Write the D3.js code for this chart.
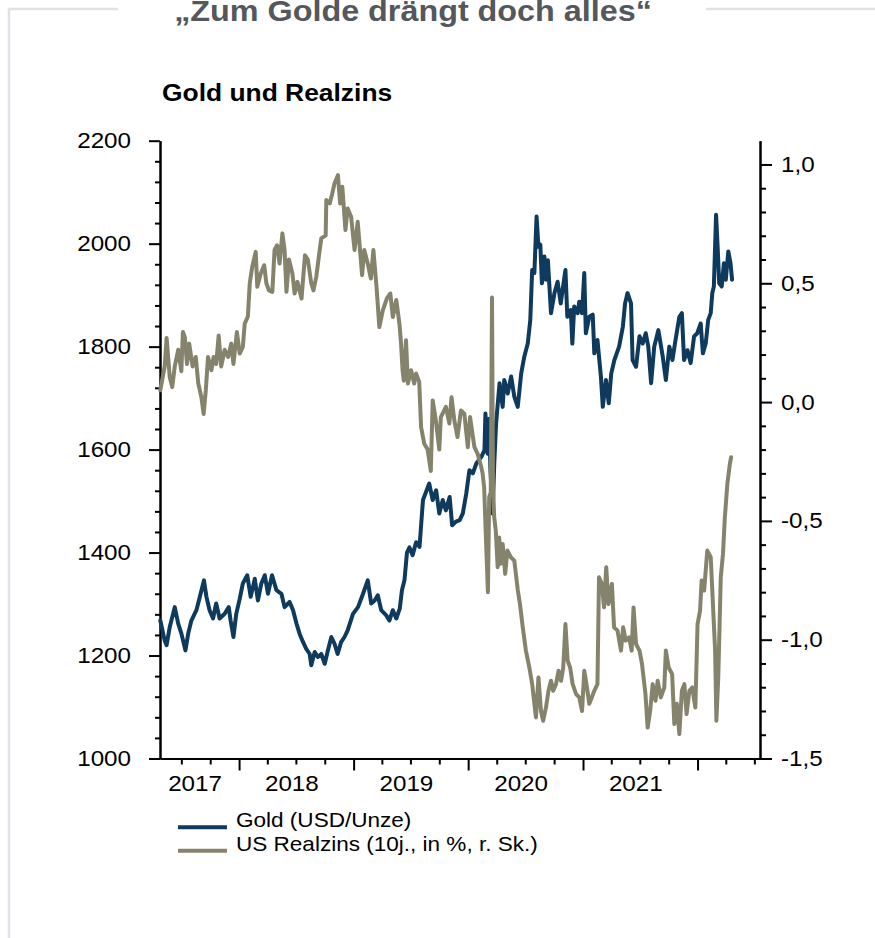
<!DOCTYPE html>
<html>
<head>
<meta charset="utf-8">
<script src="https://cdn.jsdelivr.net/npm/d3@7"></script>
<style>
  html, body { margin: 0; padding: 0; background: #fff; }
  svg { display: block; }
</style>
</head>
<body>
<svg id="chart" width="875" height="938"></svg>
<script>
// ---- texts ----
const headline = "„Zum Golde drängt doch alles“";
const chartTitle = "Gold und Realzins";
const seriesNames = ["Gold (USD/Unze)", "US Realzins (10j., in %, r. Sk.)"];
const yearLabels = [2017, 2018, 2019, 2020, 2021];

// ---- axes ----
const timeDomain = ["2017-04-24", "2022-07-19"];
const goldDomain = [1000, 2200];
const goldTicks = [1000, 1200, 1400, 1600, 1800, 2000, 2200];
const rateDomain = [-1.5, 1.1];
const rateTicks = [-1.5, -1.0, -0.5, 0.0, 0.5, 1.0];

// ---- series: gold price (USD per ounce) ----
const goldSeries = [
  ["2017-04-25",1268],["2017-05-09",1229],["2017-05-15",1220],["2017-05-25",1255],["2017-06-10",1294],
  ["2017-06-21",1262],["2017-07-01",1243],["2017-07-14",1210],["2017-07-23",1243],["2017-08-02",1268],
  ["2017-08-18",1288],["2017-08-29",1314],["2017-09-11",1346],["2017-09-19",1314],["2017-09-29",1288],
  ["2017-10-10",1272],["2017-10-20",1301],["2017-10-31",1272],["2017-11-16",1281],["2017-11-29",1294],
  ["2017-12-05",1268],["2017-12-14",1236],["2017-12-23",1281],
  ["2018-01-03",1310],["2018-01-13",1340],["2018-01-27",1356],["2018-02-07",1314],["2018-02-20",1349],
  ["2018-03-02",1307],["2018-03-13",1340],["2018-03-24",1356],["2018-04-03",1320],["2018-04-16",1356],
  ["2018-04-30",1327],["2018-05-16",1320],["2018-05-26",1294],["2018-06-11",1304],["2018-06-22",1288],
  ["2018-07-03",1262],["2018-07-13",1242],["2018-07-24",1226],["2018-08-03",1213],["2018-08-14",1203],
  ["2018-08-19",1181],["2018-08-30",1207],["2018-09-09",1197],["2018-09-20",1203],["2018-10-01",1184],
  ["2018-10-11",1210],["2018-10-22",1236],["2018-11-01",1223],["2018-11-11",1203],["2018-11-22",1226],
  ["2018-12-03",1236],["2018-12-13",1249],["2018-12-30",1281],
  ["2019-01-15",1294],["2019-01-31",1320],["2019-02-15",1346],["2019-02-26",1301],["2019-03-09",1307],
  ["2019-03-19",1317],["2019-03-30",1288],["2019-04-15",1278],["2019-04-25",1268],["2019-05-06",1288],
  ["2019-05-17",1272],["2019-05-28",1291],["2019-06-04",1327],["2019-06-12",1346],["2019-06-20",1400],
  ["2019-06-28",1410],["2019-07-08",1395],["2019-07-19",1420],["2019-07-30",1411],["2019-08-10",1502],
  ["2019-08-20",1518],["2019-08-30",1534],["2019-09-10",1502],["2019-09-21",1521],["2019-10-01",1476],
  ["2019-10-12",1502],["2019-10-22",1482],["2019-11-03",1508],["2019-11-11",1453],["2019-11-23",1460],
  ["2019-12-05",1463],["2019-12-15",1476],["2019-12-26",1515],
  ["2020-01-05",1560],["2020-01-16",1554],["2020-01-27",1573],["2020-02-12",1586],["2020-02-22",1599],
  ["2020-02-25",1670],["2020-03-03",1592],["2020-03-08",1660],["2020-03-12",1560],["2020-03-19",1476],
  ["2020-03-24",1570],["2020-03-30",1651],["2020-04-10",1729],["2020-04-20",1683],["2020-04-25",1735],
  ["2020-05-06",1709],["2020-05-17",1742],["2020-05-27",1703],["2020-06-07",1683],["2020-06-18",1748],
  ["2020-06-28",1781],["2020-07-09",1806],["2020-07-17",1852],["2020-07-23",1949],["2020-07-30",1943],
  ["2020-08-06",2053],["2020-08-12",1994],["2020-08-18",1998],["2020-08-23",1923],["2020-08-31",1975],
  ["2020-09-05",1930],["2020-09-11",1968],["2020-09-21",1865],["2020-10-02",1904],["2020-10-12",1926],
  ["2020-10-22",1884],["2020-11-06",1949],["2020-11-12",1858],["2020-11-23",1871],["2020-11-28",1806],
  ["2020-12-04",1878],["2020-12-15",1865],["2020-12-20",1887],["2020-12-29",1865],
  ["2021-01-05",1943],["2021-01-10",1826],["2021-01-21",1858],["2021-02-01",1862],["2021-02-06",1787],
  ["2021-02-16",1813],["2021-02-27",1742],["2021-03-05",1683],["2021-03-15",1735],["2021-03-24",1690],
  ["2021-04-01",1748],["2021-04-11",1774],["2021-04-26",1800],["2021-05-08",1839],["2021-05-15",1884],
  ["2021-05-23",1904],["2021-06-03",1884],["2021-06-08",1774],["2021-06-19",1761],["2021-06-30",1820],
  ["2021-07-10",1806],["2021-07-20",1826],["2021-07-28",1800],["2021-08-06",1729],["2021-08-16",1800],
  ["2021-08-29",1832],["2021-09-12",1781],["2021-09-22",1735],["2021-10-03",1800],["2021-10-13",1774],
  ["2021-10-21",1806],["2021-11-04",1858],["2021-11-12",1865],["2021-11-19",1774],["2021-11-30",1793],
  ["2021-12-10",1768],["2021-12-21",1820],["2021-12-31",1826],
  ["2022-01-11",1845],["2022-01-18",1787],["2022-01-27",1806],["2022-02-04",1852],["2022-02-12",1865],
  ["2022-02-17",1904],["2022-02-22",1917],["2022-03-01",2056],["2022-03-06",1994],["2022-03-11",1923],
  ["2022-03-19",1917],["2022-03-26",1962],["2022-04-01",1930],["2022-04-09",1985],["2022-04-16",1962],
  ["2022-04-21",1930]
];

// ---- series: US real yield, 10 years, in % (right scale) ----
const realRateSeries = [
  ["2017-04-25",0.05],["2017-05-09",0.15],["2017-05-15",0.27],["2017-05-20",0.19],["2017-05-25",0.105],
  ["2017-06-02",0.063],["2017-06-10",0.15],["2017-06-21",0.22],["2017-07-01",0.13],["2017-07-06",0.295],
  ["2017-07-12",0.274],["2017-07-19",0.16],["2017-07-26",0.246],["2017-08-06",0.15],["2017-08-16",0.19],
  ["2017-08-24",0.078],["2017-09-03",0.02],["2017-09-10",-0.05],["2017-09-17",0.05],["2017-09-24",0.19],
  ["2017-10-05",0.134],["2017-10-12",0.19],["2017-10-20",0.16],["2017-10-28",0.28],["2017-11-05",0.15],
  ["2017-11-16",0.22],["2017-11-27",0.19],["2017-12-07",0.246],["2017-12-14",0.16],["2017-12-25",0.295],
  ["2018-01-03",0.204],["2018-01-13",0.232],["2018-01-19",0.33],["2018-01-29",0.36],["2018-02-04",0.5],
  ["2018-02-12",0.57],["2018-02-23",0.632],["2018-02-28",0.485],["2018-03-11",0.541],["2018-03-22",0.576],
  ["2018-03-29",0.5],["2018-04-06",0.47],["2018-04-17",0.464],["2018-04-24",0.64],["2018-05-02",0.66],
  ["2018-05-10",0.583],["2018-05-19",0.71],["2018-05-26",0.64],["2018-06-01",0.464],["2018-06-09",0.6],
  ["2018-06-20",0.541],["2018-06-27",0.457],["2018-07-06",0.506],["2018-07-19",0.436],["2018-07-30",0.618],
  ["2018-08-08",0.6],["2018-08-19",0.5],["2018-08-26",0.47],["2018-09-04",0.527],["2018-09-12",0.611],
  ["2018-09-20",0.689],["2018-10-04",0.702],["2018-10-06",0.85],["2018-10-17",0.836],["2018-10-25",0.878],
  ["2018-11-01",0.92],["2018-11-12",0.955],["2018-11-19",0.836],["2018-11-26",0.906],["2018-12-06",0.724],
  ["2018-12-13",0.815],["2018-12-24",0.78],
  ["2019-01-04",0.64],["2019-01-14",0.759],["2019-01-28",0.534],["2019-02-04",0.64],["2019-02-15",0.583],
  ["2019-02-25",0.52],["2019-03-05",0.64],["2019-03-15",0.485],["2019-03-24",0.316],["2019-04-04",0.386],
  ["2019-04-17",0.436],["2019-04-28",0.457],["2019-05-06",0.358],["2019-05-17",0.43],["2019-05-27",0.33],
  ["2019-06-01",0.25],["2019-06-06",0.134],["2019-06-10",0.09],["2019-06-17",0.26],["2019-06-23",0.078],
  ["2019-07-03",0.134],["2019-07-13",0.078],["2019-07-19",0.12],["2019-07-29",0.085],["2019-08-04",-0.105],
  ["2019-08-14",-0.175],["2019-08-25",-0.2],["2019-09-04",-0.29],["2019-09-10",0.007],["2019-09-20",-0.077],
  ["2019-10-01",-0.2],["2019-10-06",-0.063],["2019-10-22",-0.02],["2019-11-02",-0.09],["2019-11-09",0.02],
  ["2019-11-18",-0.077],["2019-11-28",-0.147],["2019-12-09",-0.035],["2019-12-20",-0.05],["2019-12-31",-0.19],
  ["2020-01-07",-0.063],["2020-01-21",-0.19],["2020-01-31",-0.217],["2020-02-11",-0.27],["2020-02-16",-0.30],
  ["2020-02-21",-0.36],["2020-02-26",-0.55],["2020-03-04",-0.80],["2020-03-08",-0.40],["2020-03-13",-0.38],
  ["2020-03-17",0.44],["2020-03-20",-0.35],["2020-03-24",-0.485],["2020-03-29",-0.54],["2020-04-04",-0.695],
  ["2020-04-09",-0.57],["2020-04-14",-0.68],["2020-04-20",-0.597],["2020-04-28",-0.723],["2020-05-05",-0.625],
  ["2020-05-16",-0.653],["2020-05-27",-0.667],["2020-06-07",-0.79],["2020-06-14",-0.85],["2020-06-23",-0.948],
  ["2020-07-03",-1.046],["2020-07-14",-1.117],["2020-07-23",-1.187],["2020-07-30",-1.27],["2020-08-04",-1.327],
  ["2020-08-12",-1.159],["2020-08-20",-1.30],["2020-08-27",-1.341],["2020-09-05",-1.285],["2020-09-13",-1.215],
  ["2020-09-21",-1.173],["2020-09-28",-1.215],["2020-10-07",-1.187],["2020-10-15",-1.131],["2020-10-23",-1.173],
  ["2020-10-30",-1.117],["2020-11-06",-0.934],["2020-11-13",-1.088],["2020-11-21",-1.117],["2020-11-29",-1.187],
  ["2020-12-10",-1.229],["2020-12-20",-1.243],["2020-12-29",-1.30],
  ["2021-01-05",-1.131],["2021-01-12",-1.187],["2021-01-21",-1.27],["2021-01-29",-1.243],["2021-02-06",-1.215],
  ["2021-02-16",-1.187],["2021-02-21",-0.737],["2021-03-02",-0.765],["2021-03-09",-0.864],["2021-03-16",-0.695],
  ["2021-03-23",-0.85],["2021-04-03",-0.765],["2021-04-10",-0.948],["2021-04-21",-0.962],["2021-05-02",-1.046],
  ["2021-05-09",-0.948],["2021-05-17",-1.004],["2021-05-28",-0.99],["2021-06-05",-1.046],["2021-06-11",-0.864],
  ["2021-06-19",-1.018],["2021-06-30",-1.046],["2021-07-08",-1.102],["2021-07-19",-1.229],["2021-07-26",-1.37],
  ["2021-08-03",-1.30],["2021-08-11",-1.187],["2021-08-20",-1.257],["2021-08-27",-1.173],["2021-09-06",-1.243],
  ["2021-09-17",-1.201],["2021-09-22",-1.046],["2021-10-01",-1.117],["2021-10-12",-1.145],["2021-10-19",-1.355],
  ["2021-10-27",-1.27],["2021-11-04",-1.397],["2021-11-12",-1.215],["2021-11-20",-1.187],["2021-11-27",-1.313],
  ["2021-12-06",-1.215],["2021-12-15",-1.201],["2021-12-25",-1.285],
  ["2022-01-01",-0.934],["2022-01-09",-0.878],["2022-01-14",-0.751],["2022-01-22",-0.793],["2022-02-01",-0.625],
  ["2022-02-12",-0.653],["2022-02-17",-0.793],["2022-02-26",-1.046],["2022-03-02",-1.341],["2022-03-08",-1.159],
  ["2022-03-16",-0.737],["2022-03-23",-0.639],["2022-03-29",-0.485],["2022-04-06",-0.344],["2022-04-14",-0.26],
  ["2022-04-18",-0.232]
];

// ---- styles ----
const colors = { gold: "#0d3a5d", rate: "#86836c", axis: "#000", frame: "#dfe2e6", headline: "#54575c" };
const FONT = "'Liberation Sans', Arial, Helvetica, sans-serif";
const STRETCH = 1.1;   // the typeface runs a little wide

const box = { left: 160, right: 760, top: 140.7, bottom: 758.5 };

const parse = d3.utcParse("%Y-%m-%d");
const gold = goldSeries.map(([d, v]) => ({ date: parse(d), value: v }));
const realRate = realRateSeries.map(([d, v]) => ({ date: parse(d), value: v }));
const [t0, t1] = timeDomain.map(parse);

const x = d3.scaleUtc().domain([t0, t1]).range([box.left, box.right]);
const yGold = d3.scaleLinear().domain(goldDomain).range([box.bottom, box.top]);
const yRate = d3.scaleLinear().domain(rateDomain).range([box.bottom, box.top]);

const de = d3.formatLocale({ decimal: ",", thousands: ".", grouping: [3], currency: ["", " €"], minus: "-" });
const fmtRate = de.format(".1f");

const svg = d3.select("#chart");

// panel frame, interrupted behind the headline
svg.append("path")
  .attr("d", "M118,9 H9 V938")
  .attr("fill", "none").attr("stroke", colors.frame).attr("stroke-width", 2.5);
svg.append("path")
  .attr("d", "M706,9 H875")
  .attr("fill", "none").attr("stroke", colors.frame).attr("stroke-width", 2.5);

function stretch(sel) {
  sel.each(function () {
    const t = d3.select(this);
    const x0 = +t.attr("x") || 0;
    t.attr("x", x0 / STRETCH).attr("transform", `scale(${STRETCH},1)`);
  });
}

// headline (runs into the top edge of the panel) and chart title
svg.append("text")
  .attr("transform", `translate(413,20.6) scale(${STRETCH},1)`)
  .attr("text-anchor", "middle")
  .attr("font-family", FONT).attr("font-weight", "bold").attr("font-size", 29.4)
  .attr("fill", colors.headline)
  .text(headline);

svg.append("text")
  .attr("transform", `translate(162,100.7) scale(${STRETCH},1)`)
  .attr("font-family", FONT).attr("font-weight", "bold").attr("font-size", 24)
  .attr("fill", "#000")
  .text(chartTitle);

function styleAxis(g) {
  g.attr("font-family", FONT).attr("font-size", 22);
  g.selectAll("line").attr("stroke", colors.axis).attr("stroke-width", 2);
  g.selectAll(".domain").attr("stroke", colors.axis).attr("stroke-width", 2);
  g.selectAll("text").attr("fill", "#000");
}

// left axis (gold)
const goldMinor = d3.range(goldDomain[0], goldDomain[1] + 1, 40).filter(v => !goldTicks.includes(v));
svg.append("g").attr("transform", `translate(${box.left},0)`)
  .call(d3.axisLeft(yGold).tickValues(goldMinor).tickSize(5).tickSizeOuter(0).tickFormat(""))
  .call(styleAxis);
svg.append("g").attr("transform", `translate(${box.left},0)`)
  .call(d3.axisLeft(yGold).tickValues(goldTicks).tickSize(11).tickSizeOuter(0).tickPadding(18).tickFormat(d3.format("d")))
  .call(styleAxis)
  .call(g => g.selectAll("text").call(stretch));

// right axis (real yield)
const rateMinor = d3.range(-14, 10).map(v => v / 10).filter(v => Math.abs(v * 2 - Math.round(v * 2)) > 1e-9);
svg.append("g").attr("transform", `translate(${box.right},0)`)
  .call(d3.axisRight(yRate).tickValues(rateMinor).tickSize(6).tickSizeOuter(0).tickFormat(""))
  .call(styleAxis);
svg.append("g").attr("transform", `translate(${box.right},0)`)
  .call(d3.axisRight(yRate).tickValues(rateTicks).tickSize(12).tickSizeOuter(0).tickPadding(9).tickFormat(fmtRate))
  .call(styleAxis)
  .call(g => g.selectAll("text").call(stretch));

// bottom time axis: year starts long, quarter starts short
const yearStarts = d3.utcYear.range(t0, t1);
const quarterStarts = d3.utcMonth.every(3).range(t0, t1).filter(d => d.getUTCMonth() !== 0);
svg.append("g").attr("transform", `translate(0,${box.bottom})`)
  .call(d3.axisBottom(x).tickValues(quarterStarts).tickSize(6).tickSizeOuter(0).tickFormat(""))
  .call(styleAxis);
svg.append("g").attr("transform", `translate(0,${box.bottom})`)
  .call(d3.axisBottom(x).tickValues(yearStarts).tickSize(12).tickSizeOuter(0).tickFormat(""))
  .call(styleAxis);

// year labels centred on the visible part of each year
const yearLabelG = svg.append("g")
  .attr("font-family", FONT).attr("font-size", 22).attr("fill", "#000").attr("text-anchor", "middle");
yearLabels.forEach(yr => {
  const a = new Date(Math.max(Date.UTC(yr, 0, 1), t0));
  const b = new Date(Math.min(Date.UTC(yr + 1, 0, 1), t1));
  const cx = (x(a) + x(b)) / 2 - 4.5;
  yearLabelG.append("text")
    .attr("transform", `translate(${cx},${box.bottom + 32.2}) scale(${STRETCH},1)`)
    .text(yr);
});

// series lines
const lineGold = d3.line().x(d => x(d.date)).y(d => yGold(d.value));
const lineRate = d3.line().x(d => x(d.date)).y(d => yRate(d.value));

svg.append("path").datum(gold)
  .attr("d", lineGold)
  .attr("fill", "none").attr("stroke", colors.gold).attr("stroke-width", 4)
  .attr("stroke-linejoin", "round").attr("stroke-linecap", "round");

svg.append("path").datum(realRate)
  .attr("d", lineRate)
  .attr("fill", "none").attr("stroke", colors.rate).attr("stroke-width", 4)
  .attr("stroke-linejoin", "round").attr("stroke-linecap", "round");

// legend
const legend = svg.append("g").attr("font-family", FONT).attr("font-size", 20.5).attr("fill", "#000");
[[seriesNames[0], colors.gold], [seriesNames[1], colors.rate]].forEach(([name, col], i) => {
  const yy = 827.3 + i * 23.4;
  legend.append("line")
    .attr("x1", 178).attr("x2", 227).attr("y1", yy).attr("y2", yy)
    .attr("stroke", col).attr("stroke-width", 4);
  legend.append("text")
    .attr("transform", `translate(236,${yy}) scale(${STRETCH},1)`)
    .text(name);
});
</script>
</body>
</html>
